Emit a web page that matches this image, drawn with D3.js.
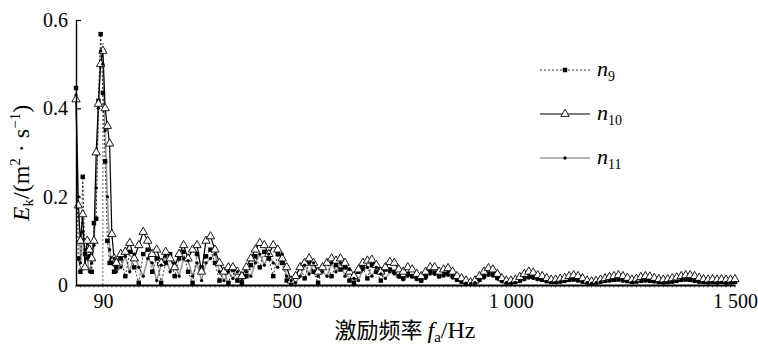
<!DOCTYPE html>
<html>
<head>
<meta charset="utf-8">
<script src="https://cdn.jsdelivr.net/npm/d3@7"></script>
<style>
  body { margin: 0; background: #fff; }
  svg { display: block; }
</style>
</head>
<body>
<svg id="chartsvg" width="758" height="345"></svg>
<script>
// excitation frequency (Hz): 5 Hz steps up to 120, then 10 Hz steps
var freq = [
  30, 35, 40, 45, 50, 55, 60, 65, 70, 75, 80, 85, 90, 95, 100, 105, 110, 115, 120,
  130, 140, 150, 160, 170, 180, 190, 200, 210, 220,
  230, 240, 250, 260, 270, 280, 290, 300, 310, 320,
  330, 340, 350, 360, 370, 380, 390, 400, 410, 420,
  430, 440, 450, 460, 470, 480, 490, 500, 510, 520,
  530, 540, 550, 560, 570, 580, 590, 600, 610, 620,
  630, 640, 650, 660, 670, 680, 690, 700, 710, 720,
  730, 740, 750, 760, 770, 780, 790, 800, 810, 820,
  830, 840, 850, 860, 870, 880, 890, 900, 910, 920,
  930, 940, 950, 960, 970, 980, 990, 1000, 1010, 1020,
  1030, 1040, 1050, 1060, 1070, 1080, 1090, 1100, 1110, 1120,
  1130, 1140, 1150, 1160, 1170, 1180, 1190, 1200, 1210, 1220,
  1230, 1240, 1250, 1260, 1270, 1280, 1290, 1300, 1310, 1320,
  1330, 1340, 1350, 1360, 1370, 1380, 1390, 1400, 1410, 1420,
  1430, 1440, 1450, 1460, 1470, 1480, 1490, 1500
];

var n9 = [
  0.446, 0.06, 0.03, 0.245, 0.07, 0.10, 0.065, 0.03, 0.14, 0.15, 0.417, 0.568, 0.435, 0.28, 0.10, 0.05, 0.06, 0.03, 0.04,
  0.06, 0.02, 0.075, 0.04, 0.005, 0.07, 0.08, 0.03, 0.06, 0.005,
  0.05, 0.07, 0.02, 0.06, 0.075, 0.03, 0.005, 0.07, 0.04, 0.065,
  0.08, 0.05, 0.01, 0.03, 0.005, 0.035, 0.01, 0.005, 0.02, 0.045,
  0.065, 0.04, 0.075, 0.06, 0.02, 0.07, 0.05, 0.01, 0.005, 0.02,
  0.04, 0.015, 0.05, 0.03, 0.005, 0.04, 0.05, 0.02, 0.045, 0.035,
  0.04, 0.01, 0.005, 0.03, 0.04, 0.015, 0.045, 0.03, 0.01, 0.035,
  0.035, 0.03, 0.02, 0.015, 0.025, 0.02, 0.015, 0.01, 0.02, 0.03,
  0.028, 0.02, 0.025, 0.027, 0.02, 0.012, 0.008, 0.005, 0.003, 0.006,
  0.012, 0.02, 0.026, 0.024, 0.016, 0.01, 0.006, 0.005, 0.007, 0.01,
  0.015, 0.02, 0.018, 0.014, 0.012, 0.009, 0.007, 0.007, 0.008, 0.01,
  0.012, 0.013, 0.011, 0.008, 0.006, 0.005, 0.006, 0.008, 0.01, 0.011,
  0.012, 0.013, 0.011, 0.009, 0.007, 0.008, 0.01, 0.011, 0.01, 0.009,
  0.007, 0.006, 0.007, 0.008, 0.01, 0.012, 0.013, 0.012, 0.01, 0.008,
  0.007, 0.006, 0.007, 0.006, 0.007, 0.006, 0.006, 0.007
];

var n10 = [
  0.42, 0.18, 0.10, 0.16, 0.04, 0.10, 0.08, 0.06, 0.10, 0.30, 0.41, 0.50, 0.53, 0.40, 0.36, 0.32, 0.115, 0.06, 0.05,
  0.07, 0.075, 0.095, 0.06, 0.09, 0.12, 0.10, 0.07, 0.08, 0.05,
  0.075, 0.06, 0.04, 0.07, 0.09, 0.06, 0.08, 0.09, 0.03, 0.10,
  0.11, 0.08, 0.05, 0.03, 0.04, 0.04, 0.03, 0.02, 0.04, 0.06,
  0.08, 0.095, 0.09, 0.07, 0.09, 0.08, 0.06, 0.04, 0.01, 0.02,
  0.04, 0.05, 0.06, 0.05, 0.03, 0.04, 0.05, 0.06, 0.055, 0.06,
  0.05, 0.03, 0.02, 0.035, 0.05, 0.055, 0.057, 0.045, 0.03, 0.04,
  0.052, 0.05, 0.035, 0.03, 0.04, 0.035, 0.025, 0.02, 0.03, 0.04,
  0.04, 0.03, 0.035, 0.038, 0.03, 0.02, 0.015, 0.01, 0.006, 0.01,
  0.02, 0.03, 0.038, 0.035, 0.025, 0.015, 0.01, 0.01, 0.012, 0.018,
  0.025, 0.03, 0.028, 0.022, 0.02, 0.015, 0.012, 0.012, 0.014, 0.016,
  0.02, 0.022, 0.02, 0.015, 0.01, 0.008, 0.009, 0.012, 0.015, 0.018,
  0.02, 0.022, 0.02, 0.016, 0.012, 0.014, 0.018, 0.02, 0.019, 0.016,
  0.013, 0.012, 0.013, 0.015, 0.017, 0.02, 0.022, 0.022, 0.02, 0.016,
  0.013, 0.012, 0.013, 0.012, 0.013, 0.012, 0.012, 0.013
];

var n11 = [
  0.43, 0.20, 0.05, 0.12, 0.08, 0.06, 0.03, 0.05, 0.09, 0.22, 0.40, 0.53, 0.50, 0.35, 0.20, 0.08, 0.05, 0.06, 0.03,
  0.04, 0.065, 0.03, 0.07, 0.04, 0.02, 0.06, 0.05, 0.01, 0.045,
  0.065, 0.03, 0.05, 0.02, 0.06, 0.055, 0.02, 0.05, 0.01, 0.05,
  0.06, 0.07, 0.03, 0.01, 0.03, 0.015, 0.03, 0.01, 0.03, 0.02,
  0.05, 0.07, 0.045, 0.07, 0.05, 0.04, 0.07, 0.02, 0.01, 0.005,
  0.02, 0.045, 0.025, 0.05, 0.02, 0.03, 0.02, 0.05, 0.03, 0.05,
  0.02, 0.035, 0.015, 0.01, 0.035, 0.04, 0.02, 0.04, 0.025, 0.015,
  0.03, 0.025, 0.018, 0.012, 0.02, 0.018, 0.012, 0.008, 0.015, 0.025,
  0.024, 0.018, 0.02, 0.022, 0.016, 0.01, 0.006, 0.004, 0.003, 0.005,
  0.01, 0.016, 0.022, 0.02, 0.014, 0.008, 0.005, 0.004, 0.006, 0.008,
  0.012, 0.016, 0.015, 0.012, 0.01, 0.008, 0.006, 0.006, 0.007, 0.008,
  0.01, 0.011, 0.009, 0.007, 0.005, 0.004, 0.005, 0.007, 0.008, 0.009,
  0.01, 0.011, 0.009, 0.008, 0.006, 0.007, 0.008, 0.009, 0.008, 0.007,
  0.006, 0.005, 0.006, 0.007, 0.008, 0.01, 0.011, 0.01, 0.008, 0.007,
  0.006, 0.005, 0.006, 0.005, 0.006, 0.005, 0.005, 0.006
];

var xTicks = [90, 500, 1000, 1500];
var xTickLabels = ["90", "500", "1 000", "1 500"];
var yTicks = [0, 0.2, 0.4, 0.6];
var yTickLabels = ["0", "0.2", "0.4", "0.6"];
var markerFreq = 90;      // dashed guide line at the first resonance
var markerTop = 0.55;

var SERIF = "'Liberation Serif', 'Times New Roman', Times, serif";
var CJK = "'Noto Sans CJK SC', sans-serif";

var plot = { left: 76, right: 735, top: 20, bottom: 285 };

var svg = d3.select("#chartsvg");

var x = d3.scaleLinear().domain([30, 1500]).range([plot.left, plot.right]);
var y = d3.scaleLinear().domain([0, 0.6]).range([plot.bottom, plot.top]);

function pts(vals) {
  return freq.map(function(f, i) { return { f: f, v: vals[i] }; });
}

var line = d3.line().x(function(d) { return x(d.f); }).y(function(d) { return y(d.v); });

// guide line at 90 Hz
svg.append("line")
  .attr("x1", x(markerFreq)).attr("x2", x(markerFreq))
  .attr("y1", y(0)).attr("y2", y(markerTop))
  .attr("stroke", "#333").attr("stroke-width", 0.8)
  .attr("stroke-dasharray", "2,2");

// lines
svg.append("path").datum(pts(n11)).attr("d", line)
  .attr("fill", "none").attr("stroke", "#9a9a9a").attr("stroke-width", 1.6);
svg.append("path").datum(pts(n9)).attr("d", line)
  .attr("fill", "none").attr("stroke", "#000").attr("stroke-width", 0.8)
  .attr("stroke-dasharray", "2,2");
svg.append("path").datum(pts(n10)).attr("d", line)
  .attr("fill", "none").attr("stroke", "#000").attr("stroke-width", 1.2);

// markers
var sq = d3.symbol().type(d3.symbolSquare).size(20);
var tri = d3.symbol().type(d3.symbolTriangle).size(30);
var dot = d3.symbol().type(d3.symbolCircle).size(9);

svg.append("g").selectAll("path").data(pts(n9)).join("path")
  .attr("d", sq)
  .attr("transform", function(d) { return "translate(" + x(d.f) + "," + y(d.v) + ")"; })
  .attr("fill", "#000");

svg.append("g").selectAll("path").data(pts(n10)).join("path")
  .attr("d", tri)
  .attr("transform", function(d) { return "translate(" + x(d.f) + "," + y(d.v) + ")"; })
  .attr("fill", "#fff").attr("stroke", "#000").attr("stroke-width", 0.9);

svg.append("g").selectAll("path").data(pts(n11)).join("path")
  .attr("d", dot)
  .attr("transform", function(d) { return "translate(" + x(d.f) + "," + y(d.v) + ")"; })
  .attr("fill", "#000");

// axes
var xAxis = d3.axisBottom(x).tickValues(xTicks).tickSize(0).tickPadding(9)
  .tickFormat(function(d, i) { return xTickLabels[i]; });
var gx = svg.append("g").attr("transform", "translate(0," + plot.bottom + ")").call(xAxis);
gx.select(".domain").attr("stroke", "#000").attr("stroke-width", 1.8);
gx.selectAll("text").style("font-family", SERIF).style("font-size", "20px").attr("fill", "#000");

// small category ticks along the x axis
svg.append("g").selectAll("line").data(freq.filter(function(f) { return f % 10 === 0; })).join("line")
  .attr("x1", function(f) { return x(f); }).attr("x2", function(f) { return x(f); })
  .attr("y1", plot.bottom).attr("y2", plot.bottom + 2.5)
  .attr("stroke", "#000").attr("stroke-width", 0.6);

var yAxis = d3.axisLeft(y).tickValues(yTicks).tickSizeInner(-5).tickSizeOuter(0).tickPadding(8)
  .tickFormat(function(d, i) { return yTickLabels[i]; });
var gy = svg.append("g").attr("transform", "translate(" + plot.left + ",0)").call(yAxis);
gy.select(".domain").attr("stroke", "#000").attr("stroke-width", 1.4);
gy.selectAll(".tick line").attr("stroke", "#000").attr("stroke-width", 1.2);
gy.selectAll("text").style("font-family", SERIF).style("font-size", "20px").attr("fill", "#000");

// y-axis title: E_k/(m^2 · s^-1)
var yt = svg.append("text")
  .style("font-family", SERIF).style("font-size", "24px")
  .attr("transform", "translate(29,163)rotate(-90)")
  .attr("text-anchor", "middle");
yt.append("tspan").attr("font-style", "italic").text("E");
yt.append("tspan").style("font-size", "15px").attr("dy", 4).text("k");
yt.append("tspan").attr("dy", -4).text("/(m");
yt.append("tspan").style("font-size", "15px").attr("dy", -9).text("2");
yt.append("tspan").attr("dy", 9).text(" · s");
yt.append("tspan").style("font-size", "15px").attr("dy", -9).text("−1");
yt.append("tspan").attr("dy", 9).text(")");

// x-axis title
var xt = svg.append("text")
  .style("font-family", SERIF).style("font-size", "24px")
  .attr("x", 405).attr("y", 338).attr("text-anchor", "middle");
xt.append("tspan").style("font-family", CJK).style("font-size", "22px").text("激励频率 ");
xt.append("tspan").attr("font-style", "italic").text("f");
xt.append("tspan").style("font-size", "15px").attr("dy", 4).text("a");
xt.append("tspan").attr("dy", -4).text("/Hz");

// legend
var legend = [
  { name: "9", y: 70, dash: "2,2", color: "#000", width: 0.8, sym: sq, fill: "#000", stroke: "none" },
  { name: "10", y: 114, dash: null, color: "#000", width: 1.2, sym: tri, fill: "#fff", stroke: "#000" },
  { name: "11", y: 158, dash: null, color: "#9a9a9a", width: 1.6, sym: dot, fill: "#000", stroke: "none" }
];
var lg = svg.append("g").selectAll("g").data(legend).join("g")
  .attr("transform", function(d) { return "translate(540," + d.y + ")"; });
lg.append("line").attr("x1", 0).attr("x2", 50)
  .attr("stroke", function(d) { return d.color; })
  .attr("stroke-width", function(d) { return d.width; })
  .attr("stroke-dasharray", function(d) { return d.dash; });
lg.append("path").attr("d", function(d) { return d.sym(); })
  .attr("transform", "translate(25,0)")
  .attr("fill", function(d) { return d.fill; })
  .attr("stroke", function(d) { return d.stroke; }).attr("stroke-width", 0.9);
var lt = lg.append("text").style("font-family", SERIF).style("font-size", "22px")
  .attr("x", 57).attr("y", 6);
lt.append("tspan").attr("font-style", "italic").text("n");
lt.append("tspan").style("font-size", "14px").attr("dy", 5).text(function(d) { return d.name; });
</script>
</body>
</html>
